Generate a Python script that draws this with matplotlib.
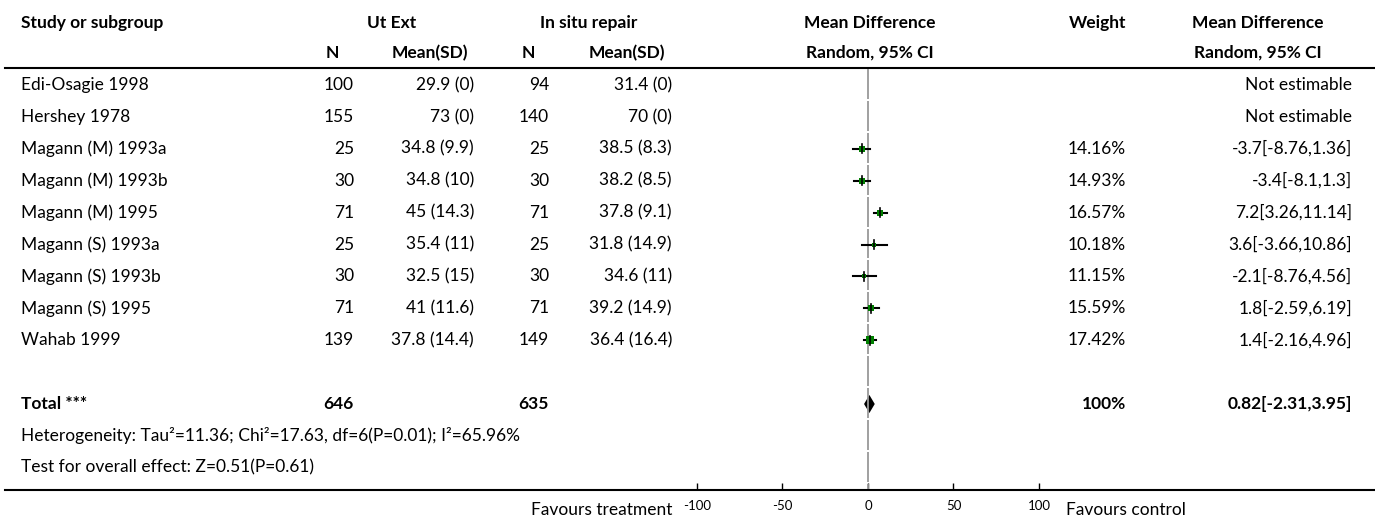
import matplotlib
matplotlib.use('Agg')
import matplotlib.pyplot as plt
import numpy as np

plt.rcParams['font.family'] = ['Lato', 'DejaVu Sans']

studies = ['Edi-Osagie 1998', 'Hershey 1978', 'Magann (M) 1993a', 'Magann (M) 1993b',
           'Magann (M) 1995', 'Magann (S) 1993a', 'Magann (S) 1993b', 'Magann (S) 1995',
           'Wahab 1999']
n_ext = [100, 155, 25, 30, 71, 25, 30, 71, 139]
mean_ext = [29.9, 73, 34.8, 34.8, 45, 35.4, 32.5, 41, 37.8]
sd_ext = [0, 0, 9.9, 10, 14.3, 11, 15, 11.6, 14.4]
n_situ = [94, 140, 25, 30, 71, 25, 30, 71, 149]
mean_situ = [31.4, 70, 38.5, 38.2, 37.8, 31.8, 34.6, 39.2, 36.4]
sd_situ = [0, 0, 8.3, 8.5, 9.1, 14.9, 11, 14.9, 16.4]
weight = [None, None, 14.16, 14.93, 16.57, 10.18, 11.15, 15.59, 17.42]
md = [None, None, -3.7, -3.4, 7.2, 3.6, -2.1, 1.8, 1.4]
ci_lo = [None, None, -8.76, -8.1, 3.26, -3.66, -8.76, -2.59, -2.16]
ci_hi = [None, None, 1.36, 1.3, 11.14, 10.86, 4.56, 6.19, 4.96]

total_n_ext = 646
total_n_situ = 635
total_md = 0.82
total_lo = -2.31
total_hi = 3.95
heterogeneity = 'Heterogeneity: Tau\u00b2=11.36; Chi\u00b2=17.63, df=6(P=0.01); I\u00b2=65.96%'
overall = 'Test for overall effect: Z=0.51(P=0.61)'
ticks = [-100, -50, 0, 50, 100]

W, H = 1375, 518
fig = plt.figure(figsize=(W / 100, H / 100), dpi=100)
ax = fig.add_axes([0, 0, 1, 1])
ax.set_xlim(0, W)
ax.set_ylim(H, 0)
ax.axis('off')

fs = 12.5
row0, step = 85, 31.9
rows = [row0 + step * i for i in range(13)]

# headers
hy1, hy2 = 23, 53
ax.text(21, hy1, 'Study or subgroup', fontsize=fs, fontweight='bold', va='center')
ax.text(392, hy1, 'Ut Ext', fontsize=fs, fontweight='bold', va='center', ha='center')
ax.text(589, hy1, 'In situ repair', fontsize=fs, fontweight='bold', va='center', ha='center')
ax.text(870, hy1, 'Mean Difference', fontsize=fs, fontweight='bold', va='center', ha='center')
ax.text(1126, hy1, 'Weight', fontsize=fs, fontweight='bold', va='center', ha='right')
ax.text(1258, hy1, 'Mean Difference', fontsize=fs, fontweight='bold', va='center', ha='center')
ax.text(332, hy2, 'N', fontsize=fs, fontweight='bold', va='center', ha='center')
ax.text(468, hy2, 'Mean(SD)', fontsize=fs, fontweight='bold', va='center', ha='right')
ax.text(528, hy2, 'N', fontsize=fs, fontweight='bold', va='center', ha='center')
ax.text(665, hy2, 'Mean(SD)', fontsize=fs, fontweight='bold', va='center', ha='right')
ax.text(870, hy2, 'Random, 95% CI', fontsize=fs, fontweight='bold', va='center', ha='center')
ax.text(1258, hy2, 'Random, 95% CI', fontsize=fs, fontweight='bold', va='center', ha='center')
ax.plot([5, W], [68, 68], color='black', lw=1.5)
ax.plot([5, W], [490, 490], color='black', lw=1.5)

for i, name in enumerate(studies):
    y = rows[i]
    ax.text(21, y, name, fontsize=fs, va='center')
    ax.text(354, y, str(n_ext[i]), fontsize=fs, va='center', ha='right')
    ax.text(474, y, f'{mean_ext[i]:g} ({sd_ext[i]:g})', fontsize=fs, va='center', ha='right')
    ax.text(549, y, str(n_situ[i]), fontsize=fs, va='center', ha='right')
    ax.text(672, y, f'{mean_situ[i]:g} ({sd_situ[i]:g})', fontsize=fs, va='center', ha='right')
    if weight[i] is None:
        ax.text(1352, y, 'Not estimable', fontsize=fs, va='center', ha='right')
    else:
        ax.text(1126, y, f'{weight[i]:.2f}%', fontsize=fs, va='center', ha='right')
        ax.text(1352, y, f'{md[i]:g}[{ci_lo[i]:g},{ci_hi[i]:g}]', fontsize=fs, va='center', ha='right')

yt = rows[10]
ax.text(21, yt, 'Total ***', fontsize=fs, fontweight='bold', va='center')
ax.text(354, yt, str(total_n_ext), fontsize=fs, fontweight='bold', va='center', ha='right')
ax.text(549, yt, str(total_n_situ), fontsize=fs, fontweight='bold', va='center', ha='right')
ax.text(1126, yt, '100%', fontsize=fs, fontweight='bold', va='center', ha='right')
ax.text(1352, yt, f'{total_md:g}[{total_lo:g},{total_hi:g}]', fontsize=fs,
        fontweight='bold', va='center', ha='right')
ax.text(21, rows[11], heterogeneity, fontsize=fs, va='center')
ax.text(21, rows[12], overall, fontsize=fs, va='center')
ax.text(672, 510, 'Favours treatment', fontsize=fs, va='center', ha='right')
ax.text(1066, 510, 'Favours control', fontsize=fs, va='center', ha='left')

# forest panel: x from -100 to 100, y in pixel rows
x0, x1 = 697, 1039
fax = fig.add_axes([x0 / W, (H - 490) / H, (x1 - x0) / W, (490 - 68) / H])
fax.set_xlim(-100, 100)
fax.set_ylim(490, 68)
fax.patch.set_alpha(0)
for s in fax.spines.values():
    s.set_visible(False)
fax.set_yticks([])
fax.set_xticks(ticks)
fax.set_xticklabels([str(t) for t in ticks])
fax.tick_params(axis='x', direction='in', length=5, width=1, pad=7, labelsize=9.5)

bounds = [68 + step * k for k in range(14)] + [490]
bounds = sorted(set(b for b in bounds if b <= 490))
for a, b in zip(bounds[:-1], bounds[1:]):
    fax.plot([0, 0], [a + 1, b - 1], color='#999999', lw=1.3, solid_capstyle='butt')

for i in range(len(studies)):
    if md[i] is None:
        continue
    y = rows[i]
    fax.plot([ci_lo[i], ci_hi[i]], [y, y], color='black', lw=1.5)
    side = weight[i] * 0.42
    fax.plot([md[i]], [y], marker='s', color='#008000', markersize=side * 0.72,
             markeredgewidth=0, linestyle='none')
    fax.plot([md[i], md[i]], [y - 4.5, y + 4.5], color='black', lw=1.2)

fax.fill([total_lo, total_md, total_hi, total_md], [yt, yt - 9, yt, yt + 9],
         color='black', lw=0)

fig.savefig('out.png', dpi=100)
